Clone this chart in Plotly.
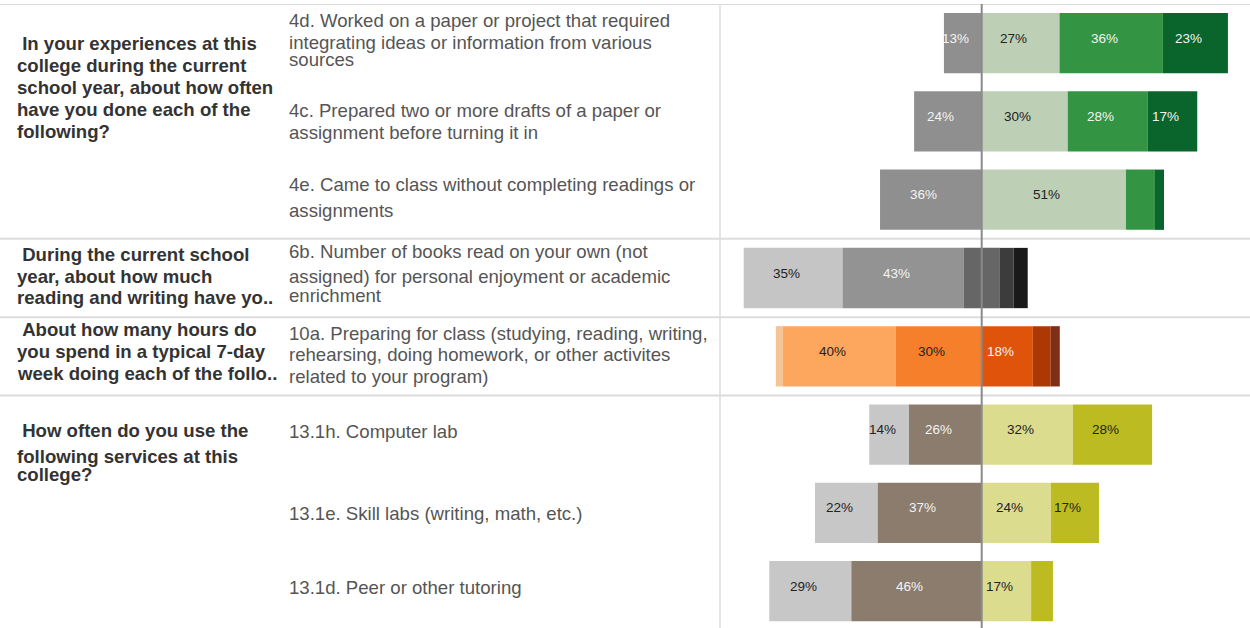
import plotly.graph_objects as go

# ---- data -------------------------------------------------------------
group_titles = [
    ["\u00a0In your experiences at this", "college during the current",
     "school year, about how often", "have you done each of the", "following?"],
    ["\u00a0During the current school", "year, about how much",
     "reading and writing have yo.."],
    ["\u00a0About how many hours do", "you spend in a typical 7-day",
     "week doing each of the follo.."],
    ["\u00a0How often do you use the", "following services at this", "college?"],
]

item_lines = [
    ["4d. Worked on a paper or project that required",
     "integrating ideas or information from various", "sources"],
    ["4c. Prepared two or more drafts of a paper or",
     "assignment before turning it in"],
    ["4e. Came to class without completing readings or", "assignments"],
    ["6b. Number of books read on your own (not",
     "assigned) for personal enjoyment or academic", "enrichment"],
    ["10a. Preparing for class (studying, reading, writing,",
     "rehearsing, doing homework, or other activites",
     "related to your program)"],
    ["13.1h. Computer lab"],
    ["13.1e. Skill labs (writing, math, etc.)"],
    ["13.1d. Peer or other tutoring"],
]

row_group = [0, 0, 0, 1, 2, 3, 3, 3]

# percent of respondents per response category, per item
values = [
    [13.3, 27.4, 36.4, 22.9],
    [23.8, 30.3, 28.2, 17.4],
    [35.8, 50.8, 10.2, 3.2],
    [34.8, 42.6, 12.8, 4.8, 5.0],
    [2.4, 39.9, 30.2, 18.0, 6.3, 3.2],
    [14.0, 25.6, 32.1, 27.9],
    [22.1, 36.6, 24.4, 16.9],
    [28.9, 45.9, 17.4, 7.7],
]

# how many categories of each group sit left of zero (x.5 = middle one centred)
left_share = [1, 2.5, 3, 2]

group_colors = [
    ["#8f8f8f", "#bdcfb5", "#339444", "#0a652c"],
    ["#c5c5c5", "#939393", "#666666", "#3c3c3c", "#191919"],
    ["#f3c496", "#fda65d", "#f57f2b", "#e0530b", "#ad3705", "#7e2f15"],
    ["#c7c7c7", "#8b7c6d", "#dbdc8e", "#bcbc22"],
]
group_text_colors = [
    ["#f4f4f4", "#222222", "#f4f4f4", "#f4f4f4"],
    ["#222222", "#f4f4f4", "#f4f4f4", "#f4f4f4", "#f4f4f4"],
    ["#222222", "#222222", "#222222", "#f4f4f4", "#f4f4f4", "#f4f4f4"],
    ["#222222", "#f4f4f4", "#222222", "#222222"],
]

# ---- layout helpers ---------------------------------------------------
W, H = 1250, 628
TOP = 4
ROW_PX = 78.29
SPLIT_X = 720
FONT = "Liberation Sans, Arial"


def ydata(py):
    return -0.5 + (py - TOP) / ROW_PX


def xpaper(px):
    return px / W


title_y = [
    [43, 65, 87, 109, 131],
    [254, 276, 297],
    [329, 351, 373],
    [430, 456, 474],
]
item_y = [
    [20, 42, 59],
    [110, 132],
    [184, 210],
    [251, 276, 295],
    [333, 354, 376],
    [431],
    [513],
    [587],
]

fig = go.Figure()
annotations = []

# bars: one trace per (group, category)
for g, colors in enumerate(group_colors):
    rows = [r for r, gg in enumerate(row_group) if gg == g]
    k = left_share[g]
    kint = int(k)
    frac = k - kint
    for c, col in enumerate(colors):
        xs, bases, ys = [], [], []
        for r in rows:
            v = values[r]
            start = -(sum(v[:kint]) + (frac * v[kint] if frac else 0))
            base = start + sum(v[:c])
            xs.append(v[c])
            bases.append(base)
            ys.append(r)
            if v[c] >= 13:
                annotations.append(dict(
                    x=base + v[c] / 2, y=r, xref="x", yref="y",
                    text=f"{v[c]:.0f}%", showarrow=False, xshift=-7, yshift=5,
                    font=dict(family=FONT, size=13.5,
                              color=group_text_colors[g][c])))
        fig.add_trace(go.Bar(
            x=xs, y=ys, base=bases, orientation="h", width=0.77,
            marker=dict(color=col, line=dict(width=0)),
            hoverinfo="skip", showlegend=False))

# left-hand text columns
for g, lines in enumerate(group_titles):
    for i, line in enumerate(lines):
        annotations.append(dict(
            x=xpaper(15), y=ydata(title_y[g][i]), xref="paper", yref="y",
            xanchor="left", yanchor="middle", text="<b>" + line + "</b>",
            showarrow=False,
            font=dict(family=FONT, size=18.6, color="#333333")))

for r, lines in enumerate(item_lines):
    for i, line in enumerate(lines):
        annotations.append(dict(
            x=xpaper(287), y=ydata(item_y[r][i]), xref="paper", yref="y",
            xanchor="left", yanchor="middle", text=line, showarrow=False,
            font=dict(family=FONT, size=18.6, color="#555555")))

shapes = []
for yy in [-0.5, 2.5, 3.5, 4.5]:
    shapes.append(dict(type="line", xref="paper", yref="y", x0=0, x1=1,
                       y0=yy, y1=yy, line=dict(color="#dcdcdc", width=2),
                       layer="below"))
shapes.append(dict(type="line", xref="paper", yref="paper",
                   x0=xpaper(SPLIT_X), x1=xpaper(SPLIT_X), y0=0, y1=1,
                   line=dict(color="#dcdcdc", width=1.5)))
shapes.append(dict(type="line", xref="x", yref="y", x0=0, x1=0,
                   y0=-0.5, y1=7.6, line=dict(color="#8a8a8a", width=2),
                   layer="above"))

# x scale: centre line at px 981.7, 2.84 px per percentage point
px_per = 2.84
centre = 981.7
x_range = [-(centre - SPLIT_X) / px_per, (W - centre) / px_per]

fig.update_layout(
    width=W, height=H,
    margin=dict(l=0, r=0, t=TOP, b=0),
    paper_bgcolor="white", plot_bgcolor="white",
    barmode="overlay",
    xaxis=dict(domain=[xpaper(SPLIT_X), 1], range=x_range, visible=False,
               fixedrange=True),
    yaxis=dict(range=[-0.5 + (H - TOP) / ROW_PX, -0.5], visible=False,
               fixedrange=True),
    annotations=annotations,
    shapes=shapes,
)

fig.write_html("out.html", config={"displayModeBar": False},
               post_script="document.body.style.margin='0';"
                           "document.body.style.overflow='hidden';")
